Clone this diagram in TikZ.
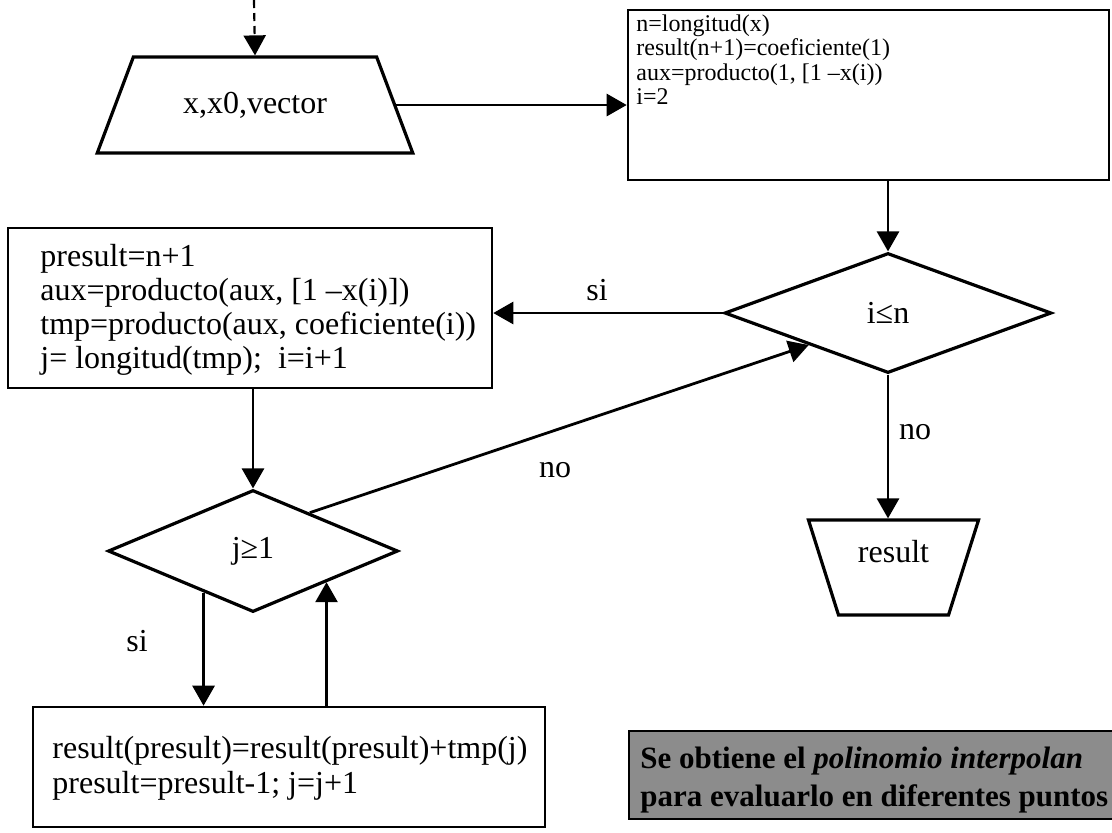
\documentclass[tikz,border=0pt]{standalone}
\usepackage{fontspec}
\setmainfont{Liberation Serif}
\usetikzlibrary{positioning,calc,shapes.geometric,arrows.meta}

\tikzset{
  flow/.style={line width=1.4pt,-{Triangle[length=10pt,width=11pt]}},
  procbox/.style={draw=black,line width=1.3pt,inner sep=0pt},
  cond/.style={draw=black,diamond,line width=1.6pt,inner sep=0pt,font=\fontsize{16}{18}\selectfont},
  io/.style={draw=black,trapezium,trapezium stretches=true,line width=1.6pt,inner sep=0pt,font=\fontsize{16}{18}\selectfont},
  lbl/.style={font=\fontsize{16}{18}\selectfont,inner sep=0pt},
  code/.style={anchor=north west,align=left,inner sep=0pt},
}

\begin{document}
\begin{tikzpicture}[x=0.5pt,y=-0.5pt]
	\useasboundingbox (0,0) rectangle (1112,832);

	% datos de entrada
	\coordinate (start) at (254,0);
	\node[io,trapezium left angle=50.8,trapezium right angle=50.8,minimum width=158pt,minimum height=48pt] (inp) at (255,105) {x,x0,vector};
	\draw[flow,line width=1.1pt,dash pattern=on 4pt off 2.5pt] (start)--(inp.north);

	% inicializacion
	\node[procbox,minimum width=240.5pt,minimum height=85pt] (ini) at (868.5,95) {};
	\node[code,font=\fontsize{12}{12.3}\selectfont] (initxt) at (636,14) {n=longitud(x)\\result(n+1)=coeficiente(1)\\aux=producto(1, [1 –x(i))\\i=2};
	\draw[flow] (inp.east)--(inp.east -| ini.west);

	% bucle en i
	\node[cond,minimum width=163.5pt,minimum height=60pt] (ci) at (888,313) {i≤n};
	\draw[flow] (ci.north |- ini.south)--(ci.north);

	\node[procbox,minimum width=242pt,minimum height=80pt] (lp) at (250,308) {};
	\node[code,font=\fontsize{16}{17}\selectfont] (lptxt) at (40,244) {presult=n+1\\aux=producto(aux, [1 –x(i)])\\tmp=producto(aux, coeficiente(i))\\j= longitud(tmp);\ \ i=i+1};
	\draw[flow] (ci.west)--(ci.west -| lp.east);
	\node[lbl] (si1) at (597,290) {si};

	% bucle en j
	\node[cond,minimum width=145pt,minimum height=61pt] (cj) at (253,551) {j≥1};
	\draw[flow] (cj.north |- lp.south)--(cj.north);
	\draw[flow] (cj.34)--(ci.202);
	\node[lbl] (no1) at (555,470) {no};

	\node[procbox,minimum width=256pt,minimum height=60pt] (bx) at (289,767) {};
	\node[code,font=\fontsize{16}{17.5}\selectfont] (bxtxt) at (52,736) {result(presult)=result(presult)+tmp(j)\\presult=presult-1; j=j+1};
	\draw[flow] (cj.220)--(cj.220 |- bx.north);
	\draw[flow] (cj.-23 |- bx.north)--(cj.-23);
	\node[lbl] (si2) at (137,641) {si};

	% salida
	\node[io,trapezium left angle=109.7,trapezium right angle=109.7,minimum width=85.5pt,minimum height=47.5pt,text depth=16pt] (res) at (893.5,567.5) {result};
	\draw[flow] (ci.south)--(ci.south |- res.north);
	\node[lbl] (no2) at (915,432) {no};

	% nota
	\begin{scope}
		\clip (0,0) rectangle (1112,832);
		\node[draw=black,fill=black!45,line width=0.8pt,minimum width=260pt,minimum height=44pt,anchor=north west] (nota) at (628,730) {};
	\end{scope}
	\node[code,font=\fontsize{15.5}{19}\selectfont\bfseries] (notatxt) at (640,747) {Se obtiene el \textit{polinomio interpolan}\\para evaluarlo en diferentes puntos};
\end{tikzpicture}
\end{document}
